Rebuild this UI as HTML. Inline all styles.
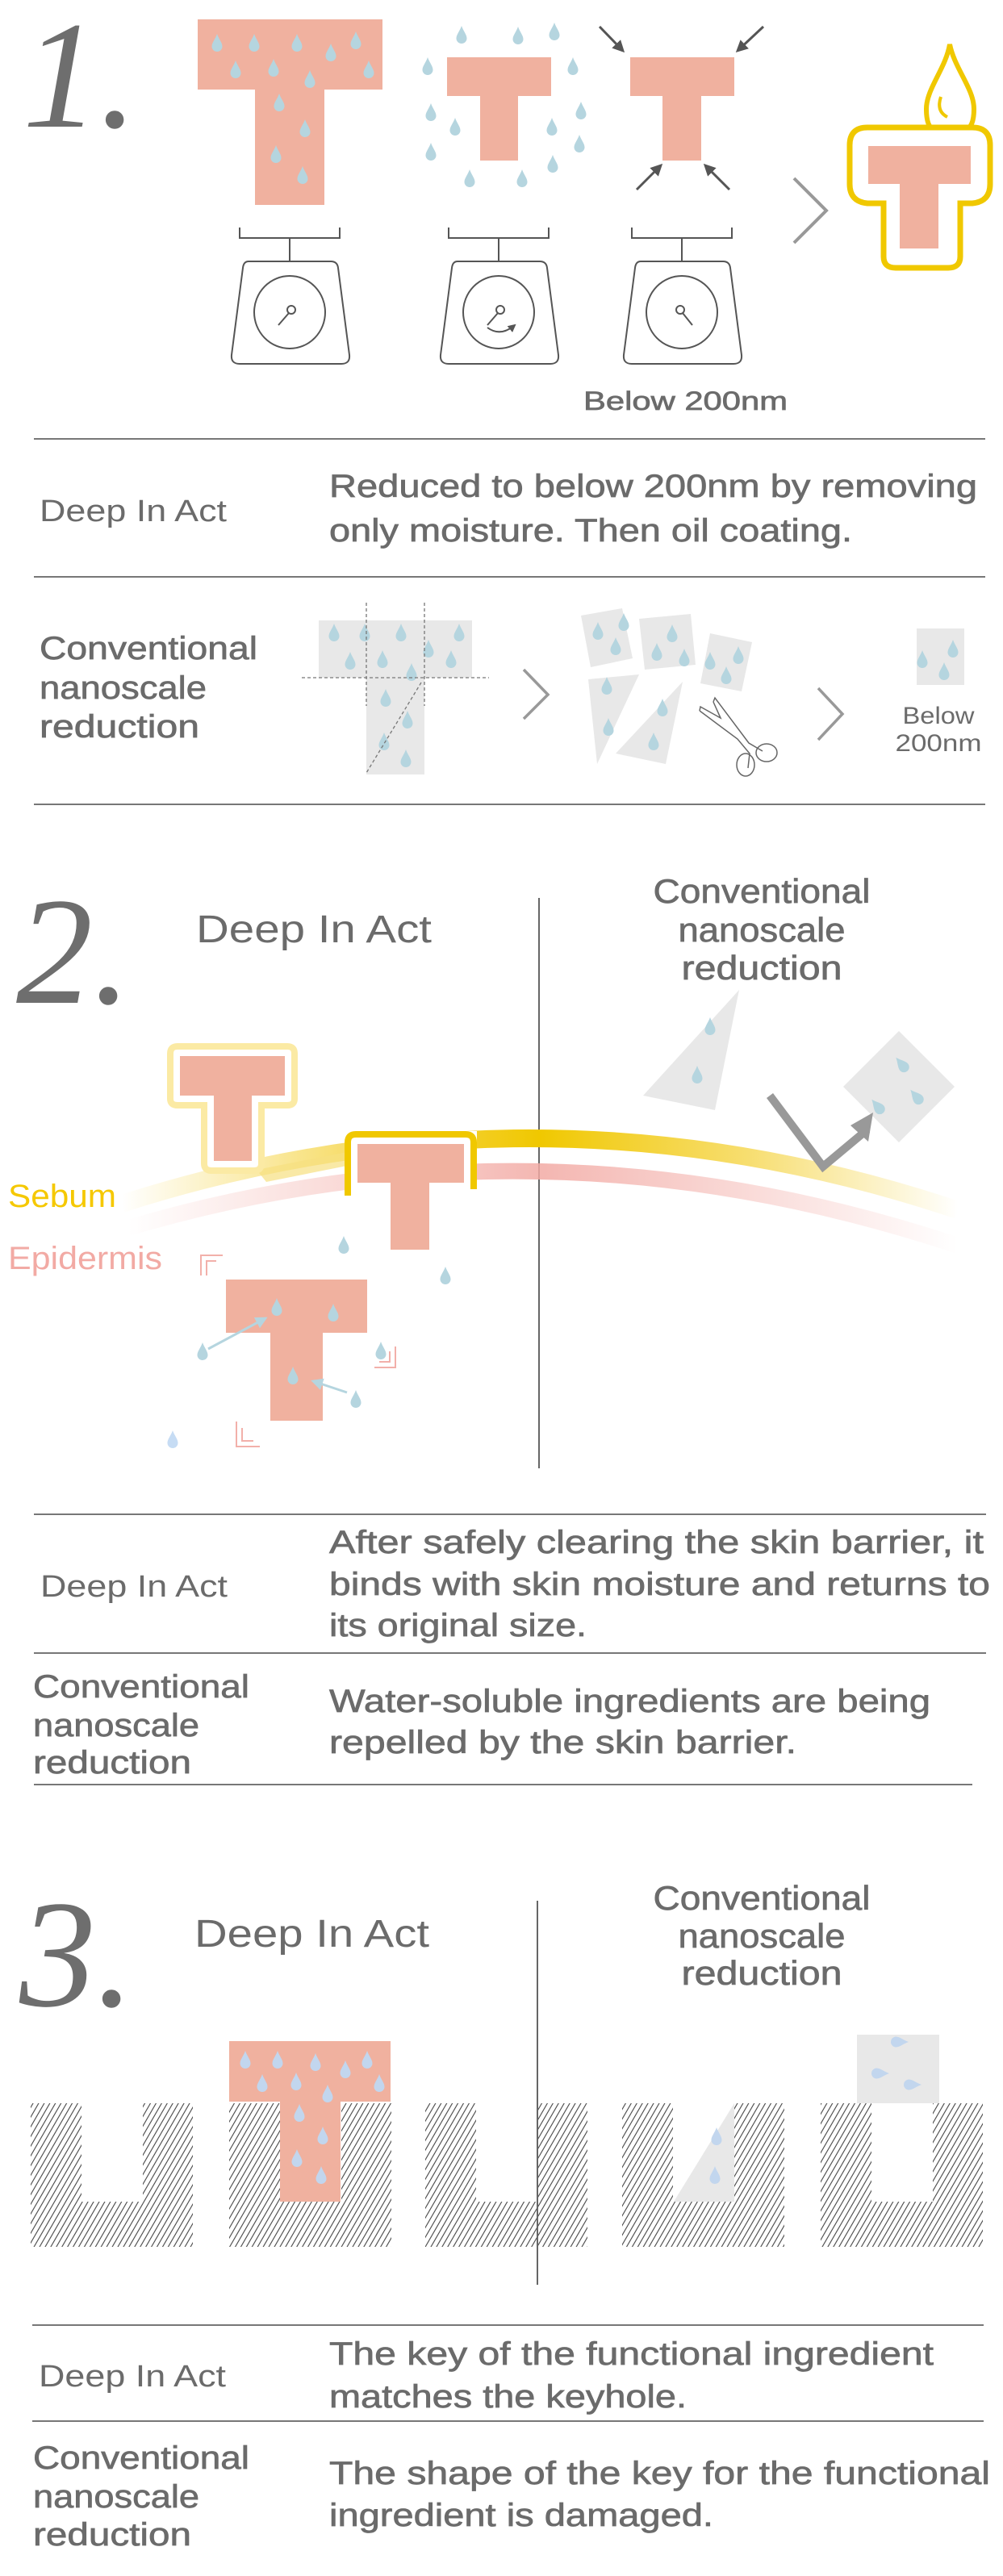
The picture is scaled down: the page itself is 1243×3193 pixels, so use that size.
<!DOCTYPE html>
<html><head><meta charset="utf-8"><style>
html,body{margin:0;padding:0;background:#fff;}
svg{display:block;}
text{font-family:"Liberation Sans",sans-serif;fill:#6b6b6b;}
.m{stroke:#6b6b6b;stroke-width:0.7px;}
.n{font-family:"Liberation Serif",serif;font-style:italic;font-size:190px;fill:#6e6e6e;}
</style></head><body>
<svg width="1243" height="3193" viewBox="0 0 1243 3193" xmlns="http://www.w3.org/2000/svg">
<defs>
<path id="d" d="M0,-12 C2,-6 6.5,-1 6.5,3.5 A6.5,6.5 0 0 1 -6.5,3.5 C-6.5,-1 -2,-6 0,-12Z"/>
<pattern id="h" patternUnits="userSpaceOnUse" width="6" height="12" patternTransform="rotate(30)">
<line x1="1" y1="0" x2="1" y2="12" stroke="#444" stroke-width="1.1"/>
</pattern>
<linearGradient id="gy" x1="151" y1="0" x2="1187" y2="0" gradientUnits="userSpaceOnUse">
<stop offset="0" stop-color="#f2c811" stop-opacity="0"/>
<stop offset="0.35" stop-color="#f2c811" stop-opacity="0.8"/>
<stop offset="0.5" stop-color="#f0c800" stop-opacity="1"/>
<stop offset="0.75" stop-color="#f2c811" stop-opacity="0.6"/>
<stop offset="1" stop-color="#f2c811" stop-opacity="0"/>
</linearGradient>
<linearGradient id="gp" x1="159" y1="0" x2="1187" y2="0" gradientUnits="userSpaceOnUse">
<stop offset="0" stop-color="#f2aaa4" stop-opacity="0"/>
<stop offset="0.5" stop-color="#f2aaa4" stop-opacity="0.85"/>
<stop offset="1" stop-color="#f2aaa4" stop-opacity="0"/>
</linearGradient>
<marker id="ar" viewBox="0 0 10 10" refX="8" refY="5" markerWidth="5" markerHeight="5" orient="auto"><path d="M0,0 L10,5 L0,10Z" fill="#555"/></marker>
<marker id="ab" viewBox="0 0 10 10" refX="8" refY="5" markerWidth="5" markerHeight="5" orient="auto"><path d="M0,0 L10,5 L0,10Z" fill="#b5d5df"/></marker>
</defs>

<!-- ================= SECTION 1 ================= -->
<text class="n" x="28" y="157">1.</text>

<path d="M245,24 H474 V111 H402 V254 H316 V111 H245Z" fill="#f0b19f"/>
<g fill="#b5d5df">
<use href="#d" transform="translate(269,54)"/><use href="#d" transform="translate(315,54)"/><use href="#d" transform="translate(368,54)"/><use href="#d" transform="translate(410,66)"/><use href="#d" transform="translate(441,51)"/><use href="#d" transform="translate(292,87)"/><use href="#d" transform="translate(339,85)"/><use href="#d" transform="translate(384,99)"/><use href="#d" transform="translate(457,87)"/><use href="#d" transform="translate(346,128)"/><use href="#d" transform="translate(378,160)"/><use href="#d" transform="translate(342,192)"/><use href="#d" transform="translate(375,218)"/>
</g>
<path d="M554,71 H683 V119 H642 V199 H595 V119 H554Z" fill="#f0b19f"/>
<g fill="#b5d5df">
<use href="#d" transform="translate(572,44)"/><use href="#d" transform="translate(642,45)"/><use href="#d" transform="translate(687,40)"/><use href="#d" transform="translate(530,83)"/><use href="#d" transform="translate(710,83)"/><use href="#d" transform="translate(534,140)"/><use href="#d" transform="translate(564,158)"/><use href="#d" transform="translate(684,158)"/><use href="#d" transform="translate(720,138)"/><use href="#d" transform="translate(534,189)"/><use href="#d" transform="translate(718,179)"/><use href="#d" transform="translate(685,204)"/><use href="#d" transform="translate(582,222)"/><use href="#d" transform="translate(647,222)"/>
</g>
<path d="M781,71 H910 V119 H869 V199 H821 V119 H781Z" fill="#f0b19f"/>
<g stroke="#555" stroke-width="3" marker-end="url(#ar)">
<line x1="743" y1="33" x2="772" y2="63"/><line x1="946" y1="33" x2="914" y2="63"/>
<line x1="789" y1="235" x2="819" y2="205"/><line x1="904" y1="235" x2="874" y2="205"/>
</g>
<polyline points="984,221 1024,261 984,301" fill="none" stroke="#999" stroke-width="4"/>
<!-- candle -->
<path d="M1177,55 C1172,85 1148,110 1148,135 Q1148,160 1160,162 H1194 Q1207,160 1207,135 C1207,110 1183,85 1177,55Z" fill="#fff" stroke="#f0c800" stroke-width="6"/>
<path d="M1166,120 Q1160,138 1174,145" fill="none" stroke="#f0c800" stroke-width="4"/>
<path d="M1075,158 H1205 Q1227,158 1227,180 V228 Q1227,250 1205,252 H1190 V318 Q1190,332 1175,332 H1110 Q1095,332 1095,318 V252 H1075 Q1053,250 1053,228 V180 Q1053,158 1075,158Z" fill="#fff" stroke="#f0c800" stroke-width="7"/>
<path d="M1076,181 H1203 V228 H1163 V308 H1115 V228 H1076Z" fill="#f0b19f"/>

<g fill="none" stroke="#555" stroke-width="2">
<g id="sc">
<path d="M297,282 V295 H421 V282 M359,295 V324"/>
<path d="M308,324 H410 Q418,324 419,332 L433,440 Q434,451 423,451 H297 Q286,451 287,440 L301,332 Q302,324 308,324Z"/>
<ellipse cx="359" cy="387" rx="44" ry="45"/>
</g>
<use href="#sc" transform="translate(259,0)"/>
<use href="#sc" transform="translate(486,0)"/>
<path d="M345,403 L358,388"/><circle cx="361" cy="384" r="5"/>
<path d="M604,403 L617,388"/><circle cx="620" cy="384" r="5"/>
<path d="M604,406 Q620,418 638,403" marker-end="url(#ar)"/>
<path d="M858,403 L846,388"/><circle cx="843" cy="384" r="5"/>
</g>
<text x="723" y="508" font-size="32" textLength="253" lengthAdjust="spacingAndGlyphs" class="m">Below 200nm</text>

<line x1="42" y1="544" x2="1221" y2="544" stroke="#777" stroke-width="2"/>
<text x="49" y="646" font-size="38" textLength="232" lengthAdjust="spacingAndGlyphs">Deep In Act</text>
<text x="408" y="616" font-size="40" textLength="803" lengthAdjust="spacingAndGlyphs" class="m">Reduced to below 200nm by removing</text>
<text x="408" y="671" font-size="40" textLength="648" lengthAdjust="spacingAndGlyphs" class="m">only moisture. Then oil coating.</text>
<line x1="42" y1="715" x2="1221" y2="715" stroke="#777" stroke-width="2"/>

<text x="49" y="817" font-size="40" textLength="270" lengthAdjust="spacingAndGlyphs" class="m">Conventional</text>
<text x="49" y="866" font-size="40" textLength="207" lengthAdjust="spacingAndGlyphs" class="m">nanoscale</text>
<text x="49" y="914" font-size="40" textLength="198" lengthAdjust="spacingAndGlyphs" class="m">reduction</text>

<path d="M395,769 H585 V840 H526 V960 H454 V840 H395Z" fill="#e8e8e8"/>
<g fill="#b5d5df">
<use href="#d" transform="translate(414,785)"/><use href="#d" transform="translate(452,785)"/><use href="#d" transform="translate(497,785)"/><use href="#d" transform="translate(569,785)"/><use href="#d" transform="translate(434,820)"/><use href="#d" transform="translate(474,818)"/><use href="#d" transform="translate(531,805)"/><use href="#d" transform="translate(559,818)"/><use href="#d" transform="translate(510,834)"/><use href="#d" transform="translate(478,866)"/><use href="#d" transform="translate(505,893)"/><use href="#d" transform="translate(476,920)"/><use href="#d" transform="translate(503,941)"/>
</g>
<g stroke="#777" stroke-width="1.3" stroke-dasharray="4,3" fill="none">
<line x1="454" y1="747" x2="454" y2="875"/><line x1="526" y1="747" x2="526" y2="875"/>
<line x1="374" y1="840" x2="606" y2="840"/><line x1="522" y1="846" x2="454" y2="958"/>
</g>
<polyline points="649,830 679,861 649,891" fill="none" stroke="#999" stroke-width="3.5"/>
<g fill="#e8e8e8">
<polygon points="720,763 771,754 784,816 732,827"/>
<polygon points="792,767 856,761 862,824 799,830"/>
<polygon points="880,785 932,796 919,857 868,847"/>
<polygon points="729,842 792,836 740,947"/>
<polygon points="846,845 763,934 825,947"/>
</g>
<g fill="#b5d5df">
<use href="#d" transform="translate(741,783)"/><use href="#d" transform="translate(763,802)"/><use href="#d" transform="translate(773,772)"/><use href="#d" transform="translate(833,786)"/><use href="#d" transform="translate(814,809)"/><use href="#d" transform="translate(848,816)"/><use href="#d" transform="translate(880,820)"/><use href="#d" transform="translate(915,813)"/><use href="#d" transform="translate(900,838)"/><use href="#d" transform="translate(752,851)"/><use href="#d" transform="translate(754,902)"/><use href="#d" transform="translate(821,878)"/><use href="#d" transform="translate(810,920)"/>
</g>
<g fill="none" stroke="#666" stroke-width="1.5">
<path d="M867,881 L914,916 L929,934 L927,952 M884,870 L886,865 L928,921 L945,931 M867,881 L868,876 L893,890 L884,870"/>
<ellipse cx="924" cy="948" rx="11" ry="14"/>
<ellipse cx="950" cy="933" rx="13" ry="11"/>
</g>
<polyline points="1014,853 1044,885 1014,917" fill="none" stroke="#999" stroke-width="3.5"/>
<rect x="1136" y="779" width="59" height="70" fill="#e8e8e8"/>
<g fill="#b5d5df"><use href="#d" transform="translate(1143,818)"/><use href="#d" transform="translate(1181,805)"/><use href="#d" transform="translate(1170,833)"/></g>
<text x="1163" y="897" font-size="30" text-anchor="middle" textLength="89" lengthAdjust="spacingAndGlyphs">Below</text>
<text x="1163" y="931" font-size="30" text-anchor="middle" textLength="107" lengthAdjust="spacingAndGlyphs">200nm</text>
<line x1="42" y1="997" x2="1221" y2="997" stroke="#777" stroke-width="2"/>

<!-- ================= SECTION 2 ================= -->
<text class="n" x="20" y="1243">2.</text>
<text x="243" y="1168" font-size="48" textLength="292" lengthAdjust="spacingAndGlyphs">Deep In Act</text>
<line x1="668" y1="1113" x2="668" y2="1820" stroke="#666" stroke-width="2"/>
<text x="944" y="1119" font-size="42" text-anchor="middle" textLength="269" lengthAdjust="spacingAndGlyphs" class="m">Conventional</text>
<text x="944" y="1167" font-size="42" text-anchor="middle" textLength="207" lengthAdjust="spacingAndGlyphs" class="m">nanoscale</text>
<text x="944" y="1214" font-size="42" text-anchor="middle" textLength="199" lengthAdjust="spacingAndGlyphs" class="m">reduction</text>

<path d="M159,1522 Q668,1371 1187,1544" fill="none" stroke="url(#gp)" stroke-width="20"/>
<path d="M151,1492 Q668,1326 1187,1500" fill="none" stroke="url(#gy)" stroke-width="22"/>
<text x="10" y="1496" font-size="40" textLength="134" lengthAdjust="spacingAndGlyphs" style="fill:#f5c800">Sebum</text>
<text x="10" y="1573" font-size="40" textLength="191" lengthAdjust="spacingAndGlyphs" style="fill:#f2aaa4">Epidermis</text>

<path d="M318,1450 L430,1428 L430,1445 L330,1465Z" fill="#f6e080" opacity="0.7"/>
<path d="M220,1297 H356 Q365,1297 365,1306 V1362 Q365,1370 356,1370 H324 V1442 Q324,1451 315,1451 H262 Q253,1451 253,1442 V1370 H220 Q211,1370 211,1362 V1306 Q211,1297 220,1297Z" fill="#fff" stroke="#fbeaa4" stroke-width="8"/>
<path d="M223,1309 H353 V1358 H312 V1439 H265 V1358 H223Z" fill="#f0b19f"/>
<rect x="427" y="1402" width="164" height="86" fill="#fff"/>
<path d="M431,1482 V1416 Q431,1406 441,1406 H577 Q587,1406 587,1416 V1474" fill="none" stroke="#f0c800" stroke-width="8"/>
<path d="M443,1418 H575 V1466 H532 V1549 H484 V1466 H443Z" fill="#f0b19f"/>
<path d="M280,1586 H455 V1652 H400 V1761 H335 V1652 H280Z" fill="#f0b19f"/>
<g stroke="#b5d5df" stroke-width="3" marker-end="url(#ab)">
<line x1="258" y1="1672" x2="329" y2="1634"/><line x1="430" y1="1726" x2="388" y2="1712"/>
</g>
<g fill="#b5d5df">
<use href="#d" transform="translate(426,1544)"/><use href="#d" transform="translate(552,1582)"/><use href="#d" transform="translate(343,1621)"/><use href="#d" transform="translate(413,1628)"/><use href="#d" transform="translate(363,1706)"/><use href="#d" transform="translate(251,1676)"/><use href="#d" transform="translate(441,1735)"/><use href="#d" transform="translate(472,1675)"/>
<use href="#d" transform="translate(214,1785)" fill="#c6dcf4"/>
</g>
<g fill="none" stroke="#f2b0aa" stroke-width="2">
<path d="M249,1581 V1556 H276 M256,1581 V1563 H268"/>
<path d="M490,1669 V1695 H464 M483,1675 V1688 H470"/>
<path d="M293,1762 V1793 H322 M300,1770 V1786 H314"/>
</g>
<polygon points="916,1227 797,1358 886,1376" fill="#e8e8e8"/>
<g fill="#b5d5df"><use href="#d" transform="translate(880,1273)"/><use href="#d" transform="translate(864,1333)"/></g>
<polygon points="1114,1278 1183,1347 1114,1416 1045,1347" fill="#e8e8e8"/>
<g fill="#b5d5df"><use href="#d" transform="translate(1118,1320) rotate(-40)"/><use href="#d" transform="translate(1136,1360) rotate(-40)"/><use href="#d" transform="translate(1088,1372) rotate(-40)"/></g>
<path d="M954,1358 L1020,1446 L1075,1400" fill="none" stroke="#999" stroke-width="10"/>
<polygon points="1082,1379 1076,1415 1054,1395" fill="#999"/>

<line x1="42" y1="1877" x2="1222" y2="1877" stroke="#777" stroke-width="2"/>
<text x="50" y="1979" font-size="38" textLength="232" lengthAdjust="spacingAndGlyphs">Deep In Act</text>
<text x="408" y="1925" font-size="40" textLength="811" lengthAdjust="spacingAndGlyphs" class="m">After safely clearing the skin barrier, it</text>
<text x="408" y="1977" font-size="40" textLength="819" lengthAdjust="spacingAndGlyphs" class="m">binds with skin moisture and returns to</text>
<text x="408" y="2028" font-size="40" textLength="319" lengthAdjust="spacingAndGlyphs" class="m">its original size.</text>
<line x1="42" y1="2049" x2="1222" y2="2049" stroke="#777" stroke-width="2"/>
<text x="41" y="2104" font-size="40" textLength="268" lengthAdjust="spacingAndGlyphs" class="m">Conventional</text>
<text x="41" y="2152" font-size="40" textLength="206" lengthAdjust="spacingAndGlyphs" class="m">nanoscale</text>
<text x="41" y="2198" font-size="40" textLength="196" lengthAdjust="spacingAndGlyphs" class="m">reduction</text>
<text x="408" y="2122" font-size="40" textLength="745" lengthAdjust="spacingAndGlyphs" class="m">Water-soluble ingredients are being</text>
<text x="408" y="2173" font-size="40" textLength="579" lengthAdjust="spacingAndGlyphs" class="m">repelled by the skin barrier.</text>
<line x1="42" y1="2212" x2="1205" y2="2212" stroke="#777" stroke-width="2"/>

<!-- ================= SECTION 3 ================= -->
<text class="n" x="24" y="2486">3.</text>
<text x="241" y="2413" font-size="48" textLength="291" lengthAdjust="spacingAndGlyphs">Deep In Act</text>
<text x="944" y="2367" font-size="42" text-anchor="middle" textLength="269" lengthAdjust="spacingAndGlyphs" class="m">Conventional</text>
<text x="944" y="2414" font-size="42" text-anchor="middle" textLength="207" lengthAdjust="spacingAndGlyphs" class="m">nanoscale</text>
<text x="944" y="2460" font-size="42" text-anchor="middle" textLength="199" lengthAdjust="spacingAndGlyphs" class="m">reduction</text>

<g fill="url(#h)">
<path d="M38,2607 h63 v122 h76 v-122 h62 v178 h-201Z"/>
<path d="M284,2607 h63 v122 h76 v-122 h62 v178 h-201Z"/>
<path d="M527,2607 h63 v122 h76 v-122 h62 v178 h-201Z"/>
<path d="M771,2607 h63 v122 h76 v-122 h62 v178 h-201Z"/>
<path d="M1017,2607 h63 v122 h76 v-122 h62 v178 h-201Z"/>
</g>
<line x1="666" y1="2356" x2="666" y2="2832" stroke="#666" stroke-width="2"/>
<path d="M284,2530 H484 V2605 H422 V2729 H347 V2605 H284Z" fill="#f0b19f"/>
<g fill="#c2d6ee">
<use href="#d" transform="translate(304,2554)"/><use href="#d" transform="translate(344,2554)"/><use href="#d" transform="translate(391,2557)"/><use href="#d" transform="translate(428,2566)"/><use href="#d" transform="translate(455,2554)"/><use href="#d" transform="translate(325,2583)"/><use href="#d" transform="translate(367,2581)"/><use href="#d" transform="translate(406,2596)"/><use href="#d" transform="translate(470,2583)"/><use href="#d" transform="translate(371,2620)"/><use href="#d" transform="translate(400,2648)"/><use href="#d" transform="translate(368,2676)"/><use href="#d" transform="translate(398,2697)"/>
</g>
<polygon points="910,2607 835,2729 910,2729" fill="#e8e8e8"/>
<g fill="#c2d6ee"><use href="#d" transform="translate(888,2649)"/><use href="#d" transform="translate(886,2697)"/></g>
<rect x="1062" y="2522" width="102" height="85" fill="#e8e8e8"/>
<g fill="#c2d6ee"><use href="#d" transform="translate(1114,2531) rotate(90)"/><use href="#d" transform="translate(1090,2570) rotate(90)"/><use href="#d" transform="translate(1130,2584) rotate(90)"/></g>

<line x1="40" y1="2882" x2="1219" y2="2882" stroke="#777" stroke-width="2"/>
<text x="48" y="2958" font-size="38" textLength="232" lengthAdjust="spacingAndGlyphs">Deep In Act</text>
<text x="408" y="2931" font-size="40" textLength="749" lengthAdjust="spacingAndGlyphs" class="m">The key of the functional ingredient</text>
<text x="408" y="2984" font-size="40" textLength="443" lengthAdjust="spacingAndGlyphs" class="m">matches the keyhole.</text>
<line x1="40" y1="3001" x2="1219" y2="3001" stroke="#777" stroke-width="2"/>
<text x="41" y="3060" font-size="40" textLength="268" lengthAdjust="spacingAndGlyphs" class="m">Conventional</text>
<text x="41" y="3108" font-size="40" textLength="206" lengthAdjust="spacingAndGlyphs" class="m">nanoscale</text>
<text x="41" y="3155" font-size="40" textLength="196" lengthAdjust="spacingAndGlyphs" class="m">reduction</text>
<text x="408" y="3079" font-size="40" textLength="819" lengthAdjust="spacingAndGlyphs" class="m">The shape of the key for the functional</text>
<text x="408" y="3131" font-size="40" textLength="476" lengthAdjust="spacingAndGlyphs" class="m">ingredient is damaged.</text>
</svg>
</body></html>
